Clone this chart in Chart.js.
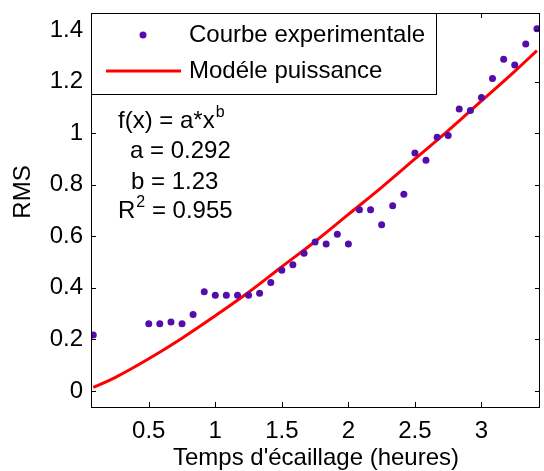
<!DOCTYPE html>
<html>
<head>
<meta charset="utf-8">
<script src="https://cdn.jsdelivr.net/npm/chart.js@4"></script>
<style>
    body { margin: 0; background: #fff; }
    #wrap { width: 544px; height: 471px; }
</style>
</head>
<body>
<div id="wrap"><canvas id="rmsChart" width="544" height="471"></canvas></div>
<script>
// temps (heures) des mesures et RMS mesure
const timeHours = [0.083, 0.5, 0.583, 0.667, 0.75, 0.833, 0.917, 1.0, 1.083, 1.167, 1.25, 1.333, 1.417,
    1.5, 1.583, 1.667, 1.75, 1.833, 1.917, 2.0, 2.083, 2.167, 2.25, 2.333, 2.417, 2.5, 2.583,
    2.667, 2.75, 2.833, 2.917, 3.0, 3.083, 3.167, 3.25, 3.333, 3.417];
const rmsValues = [0.217, 0.261, 0.261, 0.268, 0.261, 0.297, 0.385, 0.371, 0.371, 0.371, 0.371, 0.379, 0.421,
    0.468, 0.490, 0.534, 0.578, 0.570, 0.608, 0.570, 0.703, 0.703, 0.645, 0.718, 0.763, 0.923, 0.895,
    0.984, 0.991, 1.094, 1.088, 1.138, 1.212, 1.287, 1.264, 1.346, 1.405];

// courbe du modele
const modelTime = [0.083, 0.25, 0.5, 0.75, 1.0, 1.25, 1.5, 1.75, 2.0, 2.25, 2.5, 2.75, 3.0, 3.25, 3.417];
const modelRms = [0.014, 0.053, 0.125, 0.205, 0.292, 0.383, 0.482, 0.58, 0.685, 0.79, 0.9, 1.01, 1.125, 1.24, 1.32];

const xTicks = [0.5, 1, 1.5, 2, 2.5, 3];
const yTicks = [0, 0.2, 0.4, 0.6, 0.8, 1, 1.2, 1.4];

const seriesLabels = ['Courbe experimentale', 'Modéle puissance'];
const fitLines = [
    { base: 'f(x) = a*x', sup: 'b', rest: '' },
    { base: 'a = 0.292', sup: '', rest: '' },
    { base: 'b = 1.23', sup: '', rest: '' },
    { base: 'R', sup: '2', rest: ' = 0.955' }
];
const xTitle = "Temps d'écaillage (heures)";
const yTitle = 'RMS';

const FONT = '"Liberation Sans", Arial, sans-serif';
const DOT = 'rgb(84, 12, 170)';

const matlabFrame = {
    id: 'matlabFrame',
    afterDatasetsDraw(chart) {
        const ctx = chart.ctx;
        const a = chart.chartArea;
        const xs = chart.scales.x, ys = chart.scales.y;
        ctx.save();
        ctx.strokeStyle = '#000';
        ctx.lineWidth = 1;
        // ticks inward on all sides
        ctx.beginPath();
        xTicks.forEach(v => {
            const px = Math.round(xs.getPixelForValue(v)) + 0.5;
            ctx.moveTo(px, a.bottom); ctx.lineTo(px, a.bottom - 5);
            ctx.moveTo(px, a.top); ctx.lineTo(px, a.top + 5);
        });
        yTicks.forEach(v => {
            const py = Math.round(ys.getPixelForValue(v)) + 0.5;
            ctx.moveTo(a.left, py); ctx.lineTo(a.left + 5, py);
            ctx.moveTo(a.right, py); ctx.lineTo(a.right - 5, py);
        });
        ctx.stroke();

        // legend box
        const lx = a.left + 0.5, ly = a.top + 0.5, lw = 345, lh = 81;
        ctx.fillStyle = '#fff';
        ctx.fillRect(lx, ly, lw, lh);
        ctx.strokeRect(lx, ly, lw, lh);
        ctx.fillStyle = DOT;
        ctx.beginPath();
        ctx.arc(a.left + 52, a.top + 22, 3.5, 0, Math.PI * 2);
        ctx.fill();
        ctx.strokeStyle = 'red';
        ctx.lineWidth = 3;
        ctx.beginPath();
        ctx.moveTo(a.left + 15, a.top + 58);
        ctx.lineTo(a.left + 90, a.top + 58);
        ctx.stroke();
        ctx.fillStyle = '#000';
        ctx.font = '24px ' + FONT;
        ctx.textBaseline = 'middle';
        ctx.fillText(seriesLabels[0], a.left + 98, a.top + 22);
        ctx.fillText(seriesLabels[1], a.left + 98, a.top + 58);

        // fit annotation
        ctx.textBaseline = 'alphabetic';
        const starts = [118, 130, 131, 118];
        const bases = [128, 158, 189, 218];
        fitLines.forEach((l, i) => {
            ctx.font = '24px ' + FONT;
            ctx.fillText(l.base, starts[i], bases[i]);
            let x = starts[i] + ctx.measureText(l.base).width;
            if (l.sup) {
                ctx.font = '16px ' + FONT;
                ctx.fillText(l.sup, x + 1, bases[i] - 11);
                x += ctx.measureText(l.sup).width + 1;
            }
            if (l.rest) {
                ctx.font = '24px ' + FONT;
                ctx.fillText(l.rest, x, bases[i]);
            }
        });

        // frame
        ctx.strokeStyle = '#000';
        ctx.lineWidth = 1;
        ctx.strokeRect(a.left + 0.5, a.top + 0.5, a.right - a.left - 1, a.bottom - a.top);

        // axis titles
        ctx.font = '24px ' + FONT;
        ctx.textAlign = 'center';
        ctx.textBaseline = 'middle';
        ctx.fillText(xTitle, 316, 458);
        ctx.translate(23, 192);
        ctx.rotate(-Math.PI / 2);
        ctx.fillText(yTitle, 0, 0);
        ctx.restore();
    }
};

document.addEventListener('DOMContentLoaded', function() {
    const ctx = document.getElementById('rmsChart').getContext('2d');
    new Chart(ctx, {
        type: 'scatter',
        data: {
            datasets: [{
                label: seriesLabels[0],
                data: timeHours.map((t, i) => ({ x: t, y: rmsValues[i] })),
                backgroundColor: DOT,
                borderColor: DOT,
                pointRadius: 3.5,
                borderWidth: 0,
                order: 0
            }, {
                label: seriesLabels[1],
                data: modelTime.map((t, i) => ({ x: t, y: modelRms[i] })),
                showLine: true,
                borderColor: '#ff0000',
                borderWidth: 3,
                pointRadius: 0,
                tension: 0.4,
                order: 1
            }]
        },
        options: {
            responsive: false,
            animation: false,
            devicePixelRatio: 1,
            layout: { padding: { top: 13, right: 1, left: 0, bottom: 0 } },
            plugins: {
                legend: { display: false },
                tooltip: { enabled: false }
            },
            scales: {
                x: {
                    type: 'linear',
                    min: 0.066,
                    max: 3.44,
                    afterBuildTicks: s => { s.ticks = xTicks.map(v => ({ value: v })); },
                    afterFit: s => {
                        s.height = 64;
                        s.paddingLeft = 0;
                        s.paddingRight = 0;
                    },
                    border: { display: false },
                    grid: { drawOnChartArea: false, drawTicks: false },
                    ticks: {
                        padding: 10,
                        color: '#000',
                        maxRotation: 0,
                        font: { family: FONT, size: 24 },
                        callback: v => String(v)
                    }
                },
                y: {
                    type: 'linear',
                    min: -0.062,
                    max: 1.466,
                    afterBuildTicks: s => { s.ticks = yTicks.map(v => ({ value: v })); },
                    afterFit: s => {
                        s.width = 91;
                        s.paddingTop = 0;
                        s.paddingBottom = 0;
                    },
                    border: { display: false },
                    grid: { drawOnChartArea: false, drawTicks: false },
                    ticks: {
                        padding: 8,
                        color: '#000',
                        font: { family: FONT, size: 24 },
                        callback: v => String(v)
                    }
                }
            }
        },
        plugins: [matlabFrame]
    });
});
</script>
</body>
</html>
